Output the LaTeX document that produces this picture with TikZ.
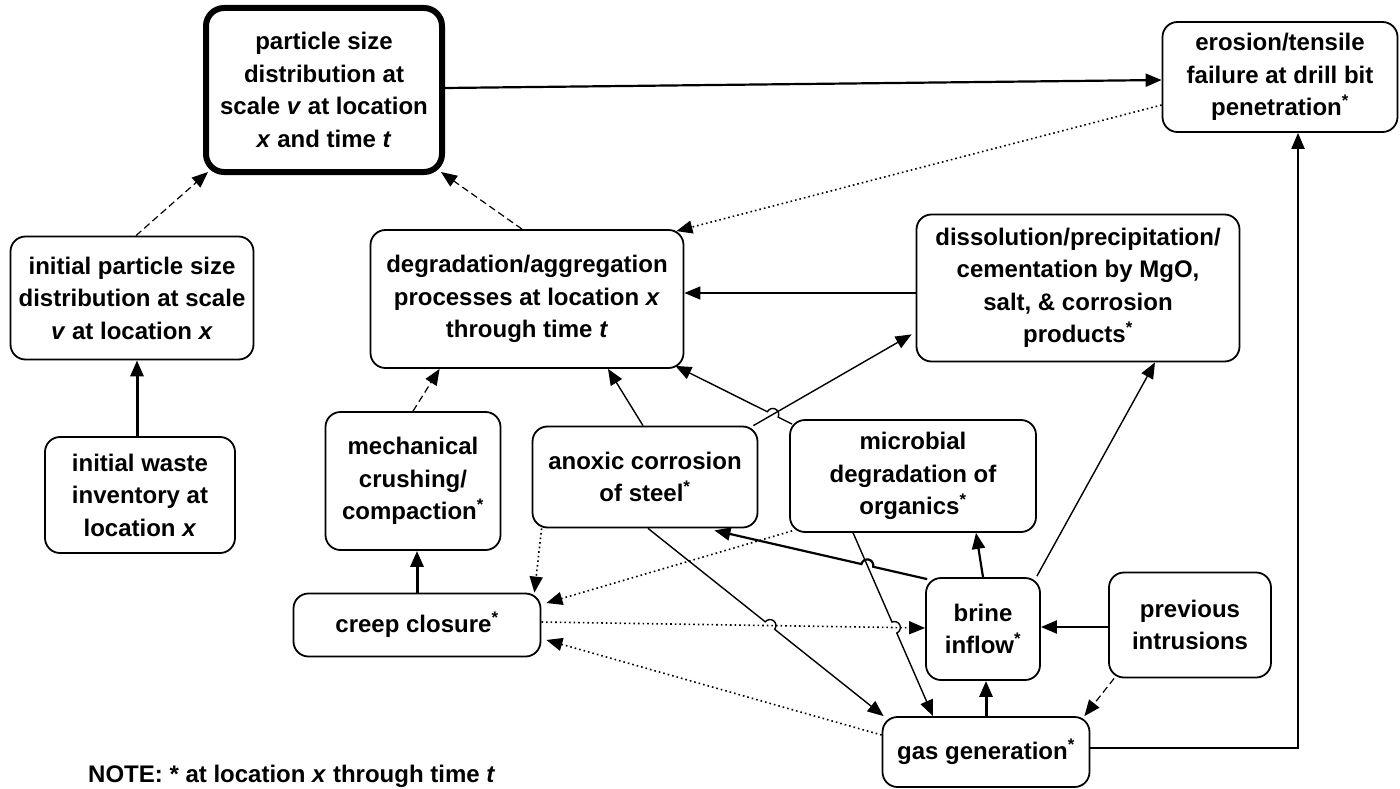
\documentclass[tikz,border=0pt]{standalone}
\usepackage{fontspec}
\setmainfont{Liberation Sans}
\usetikzlibrary{arrows.meta,calc}
\newcommand\lbl{\fontsize{24}{32.5}\selectfont\bfseries}
\newcommand\hopr{6pt}
\newcommand\hopline[6]{%
  \coordinate (hX) at (intersection of #2--#3 and #4--#5);
  \draw[#1] let \p1=($(#3)-(#2)$), \n1={atan2(\y1,\x1)} in
    (#2) -- ($(hX)!\hopr!(#2)$) arc[start angle=\n1+180, end angle=\n1+#6, radius=\hopr] -- (#3);
}
\begin{document}
\begin{tikzpicture}[x=1pt,y=1pt,
  box/.style={draw, line width=1.8pt, rounded corners=15pt, align=center, inner sep=0pt, font=\lbl},
  arr/.style={-{Triangle[length=16pt,width=13pt]}},
  thinl/.style={arr, line width=1.4pt},
  medl/.style={arr, line width=2.2pt},
  thickl/.style={arr, line width=3pt},
  dashl/.style={arr, line width=1.2pt, dash pattern=on 7pt off 4pt},
  dotl/.style={arr, line width=1.6pt, dash pattern=on 1.6pt off 3pt},
]
\useasboundingbox (0,0) rectangle (1400,-789);

% nodes
\node[box, minimum width=236pt, minimum height=164pt, line width=6pt, rounded corners=18pt] (psd) at (324,-90)
  {particle size\\distribution at\\scale \textit{v} at location\\\textit{x} and time \textit{t}};
\node[box, minimum width=235pt, minimum height=110pt] (erosion) at (1280,-77)
  {erosion/tensile\\failure at drill bit\\penetration\textsuperscript{*}};
\node[box, minimum width=243pt, minimum height=123pt] (ipsd) at (132,-298)
  {initial particle size\\distribution at scale\\\textit{v} at location \textit{x}};
\node[box, minimum width=313pt, minimum height=138pt] (da) at (527,-299)
  {degradation/aggregation\\processes at location \textit{x}\\through time \textit{t}};
\node[box, minimum width=323pt, minimum height=147pt] (diss) at (1078,-288)
  {dissolution/precipitation/\\cementation by MgO,\\salt, \& corrosion\\products\textsuperscript{*}};
\node[box, minimum width=190pt, minimum height=116pt] (waste) at (140,-495)
  {initial waste\\inventory at\\location \textit{x}};
\node[box, minimum width=175pt, minimum height=138pt] (mech) at (413,-481)
  {mechanical\\crushing/\\compaction\textsuperscript{*}};
\node[box, minimum width=225pt, minimum height=101pt] (anoxic) at (645,-477)
  {anoxic corrosion\\of steel\textsuperscript{*}};
\node[box, minimum width=246pt, minimum height=112pt] (microbial) at (913,-476)
  {microbial\\degradation of\\organics\textsuperscript{*}};
\node[box, minimum width=247pt, minimum height=63pt] (creep) at (417,-625)
  {creep closure\textsuperscript{*}};
\node[box, minimum width=114pt, minimum height=102pt] (brine) at (983,-629)
  {brine\\inflow\textsuperscript{*}};
\node[box, minimum width=162pt, minimum height=105pt] (prev) at (1190,-625)
  {previous\\intrusions};
\node[box, minimum width=207pt, minimum height=70pt] (gas) at (986,-752)
  {gas generation\textsuperscript{*}};
\node[anchor=base west, font=\lbl, inner sep=0pt] (note) at (88,-782)
  {NOTE: * at location \textit{x} through time \textit{t}};

% connectors
\coordinate (a1) at ($(waste.north)+(-3,0)$);
\draw[thickl] (a1) -- (a1 |- ipsd.south);
\draw[dashl] ($(ipsd.north)+(4,0)$) -- ($(psd.south west)+(5,3)$);
\draw[dashl] ($(da.north)+(-5,0)$) -- ($(psd.south east)+(-4,3)$);
\draw[medl] ($(psd.east)+(0,2)$) -- ($(erosion.west)+(0,-3)$);
\draw[dotl] ($(erosion.west)+(0,-28)$) -- ($(da.north east)+(-8,-2)$);
\coordinate (f1) at ($(diss.west)+(0,-5)$);
\draw[thinl] (f1) -- (f1 -| da.east);
\draw[thinl] ($(anoxic.north)+(-2,0)$) -- ($(da.south)+(81,0)$);
\coordinate (i1) at ($(anoxic.north east)+(-5,0)$);
\coordinate (i2) at ($(diss.south west)+(-4,28)$);
\draw[thinl] (i1) -- (i2);
\coordinate (h1) at ($(microbial.north west)+(3,-5)$);
\coordinate (h2) at ($(da.south east)+(-9,3)$);
\hopline{thinl}{h1}{h2}{i1}{i2}{360}
\draw[dashl] (mech.north) -- ($(da.south west)+(70,0)$);
\draw[thickl] (creep.north) -- (creep.north |- mech.south);
\draw[dotl] ($(anoxic.south west)+(10,0)$) -- ($(creep.north east)+(-7,0)$);
\draw[dotl] ($(microbial.south west)+(3,2)$) -- ($(creep.east)+(5,22)$);
\coordinate (n1) at ($(creep.east)+(0,3)$);
\coordinate (n2) at ($(brine.west)+(0,1)$);
\draw[dotl] (n1) -- (n2);
\draw[dotl] ($(gas.west)+(0,17)$) -- ($(creep.east)+(5,-15)$);
\coordinate (p1) at ($(anoxic.south)+(3,0)$);
\coordinate (p2) at ($(gas.north west)+(2,0)$);
\hopline{thinl}{p1}{p2}{n1}{n2}{0}
\coordinate (q1) at ($(microbial.south west)+(64,0)$);
\coordinate (q2) at ($(gas.north)+(-53,0)$);
\hopline{thinl}{q1}{q2}{n1}{n2}{0}
\draw[medl] (brine.north) -- ($(microbial.south)+(63,0)$);
\coordinate (s1) at ($(brine.north west)+(2,-2)$);
\coordinate (s2) at ($(anoxic.south east)+(-44,-2)$);
\hopline{medl}{s1}{s2}{q1}{q2}{360}
\draw[thinl] ($(brine.north east)+(-4,1)$) -- ($(diss.south)+(77,0)$);
\coordinate (u1) at ($(prev.west)+(0,-2)$);
\draw[medl] (u1) -- (u1 -| brine.east);
\draw[thickl] (gas.north) -- (gas.north |- brine.south);
\draw[dashl] ($(prev.south west)+(6,0)$) -- ($(gas.north east)+(-6,0)$);
\draw[medl] ($(gas.east)+(0,4)$) -| ($(erosion.south)+(18,0)$);
\end{tikzpicture}
\end{document}
